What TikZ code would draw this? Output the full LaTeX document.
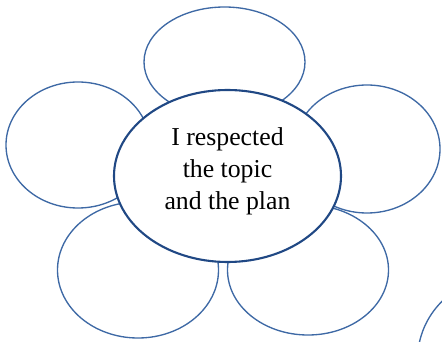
\documentclass[tikz,border=0pt]{standalone}
\usepackage{fontspec}
\setmainfont{Liberation Serif}
\usetikzlibrary{shapes.geometric}
\usetikzlibrary{positioning}

\definecolor{petalblue}{RGB}{62,105,165}
\definecolor{heartblue}{RGB}{32,72,132}

\tikzset{
    petal/.style={ellipse, draw=petalblue, line width=1.15pt, inner sep=0pt},
    heart/.style={ellipse, draw=heartblue, line width=1.8pt, fill=white, inner sep=0pt,
        align=center, text depth=13pt, font=\fontsize{22}{27.5}\selectfont}
}

\begin{document}
\begin{tikzpicture}
        \useasboundingbox (0,0) rectangle (13.26,-10.26);
        % petals
        \node[petal, minimum width=4.83cm, minimum height=3.3cm] (top) at (6.735,-1.86) {};
        \node[petal, minimum width=4.32cm, minimum height=3.78cm] (left) at (2.34,-4.35) {};
        \node[petal, minimum width=4.38cm, minimum height=3.84cm] (right) at (11.01,-4.47) {};
        \node[petal, minimum width=4.83cm, minimum height=4.08cm] (lowleft) at (4.14,-8.1) {};
        \node[petal, minimum width=4.83cm, minimum height=3.9cm] (lowright) at (9.24,-8.1) {};
        \node[petal, minimum width=4.95cm, minimum height=4.95cm] (next) at (15,-10.8) {};

        % centre
        \node[heart, minimum width=6.81cm, minimum height=5.16cm] (centre) at (6.825,-5.28)
            {I respected\\the topic\\and the plan};
\end{tikzpicture}
\end{document}
